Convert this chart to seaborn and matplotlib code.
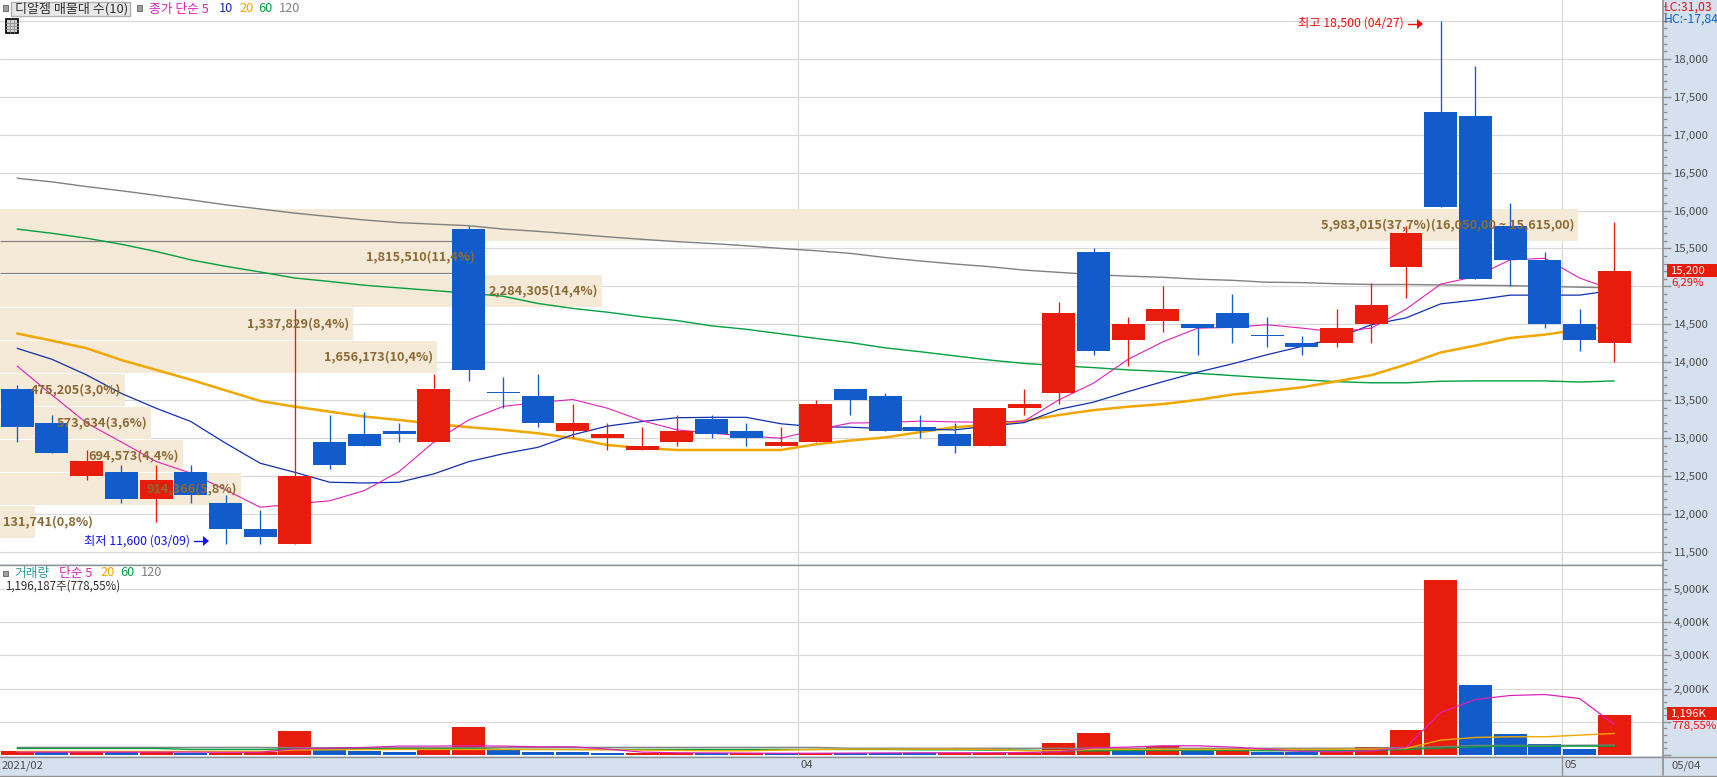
import numpy as np
import pandas as pd
import matplotlib
matplotlib.use("Agg")
import matplotlib.pyplot as plt
from matplotlib.patches import Rectangle
from matplotlib.ticker import MultipleLocator, FuncFormatter
import seaborn as sns

# ---------- data ----------
opens = [13650,13200,12500,12550,12200,12550,12150,11800,11600,12950,13050,13100,12950,15750,13600,13550,
         13100,13000,12850,12950,13250,13100,12900,12950,13650,13550,13150,13050,12900,13400,13600,15450,
         14300,14550,14500,14650,14350,14250,14250,14500,15250,17300,17250,15800,15350,14500,14250]
closes = [13150,12800,12700,12200,12450,12250,11800,11700,12500,12650,12900,13050,13650,13900,13600,13200,
          13200,13050,12900,13100,13050,13000,12950,13450,13500,13100,13100,12900,13400,13450,14650,14150,
          14500,14700,14450,14450,14350,14200,14450,14750,15700,16050,15100,15350,14500,14300,15200]
highs = [13700,13300,12850,12650,12650,12650,12250,12050,14700,13300,13350,13200,13850,15800,13800,13850,
         13450,13200,13150,13300,13300,13200,13150,13500,13650,13600,13300,13200,13400,13650,14800,15500,
         14600,15000,14500,14900,14600,14350,14700,15050,15800,18500,17900,16100,15450,14700,15850]
lows = [12950,12800,12450,12150,11900,12150,11600,11600,11600,12600,12900,12950,12950,13750,13400,13150,
        13000,12850,12850,12900,13000,12900,12900,12950,13300,13100,13000,12800,12900,13300,13450,14100,
        13950,14400,14100,14250,14200,14100,14200,14250,14850,16050,15100,15000,14450,14150,14000]
ma5 = [13950,13570,13200,12950,12693,12540,12320,12090,12135,12175,12310,12560,12950,13240,13420,13470,
       13510,13395,13230,13110,13065,13030,13000,13110,13200,13205,13225,13215,13210,13225,13505,13725,
       14040,14270,14450,14460,14495,14450,14400,14450,14700,15030,15130,15350,15370,15110,14950]
ma10 = [14184,14040,13833,13590,13395,13220,12935,12670,12550,12420,12410,12420,12530,12690,12795,12880,
        13045,13160,13220,13270,13275,13275,13190,13150,13145,13125,13120,13110,13160,13205,13380,13475,
        13615,13745,13870,13980,14100,14210,14320,14495,14585,14770,14820,14885,14885,14885,14950]
ma20 = [14380,14285,14185,14030,13900,13770,13630,13490,13415,13350,13285,13240,13190,13145,13110,13065,
        13000,12910,12870,12845,12845,12845,12845,12920,12970,13010,13080,13145,13175,13230,13305,13370,
        13415,13450,13505,13575,13620,13670,13750,13830,13970,14130,14220,14320,14365,14430,14475]
ma60 = [15755,15700,15635,15555,15460,15350,15265,15190,15110,15065,15015,14980,14945,14910,14870,14775,
        14710,14660,14600,14550,14480,14435,14375,14315,14260,14190,14140,14085,14030,13985,13955,13930,
        13900,13880,13855,13825,13795,13770,13745,13730,13730,13750,13755,13755,13755,13740,13755]
ma120 = [16425,16377,16315,16260,16200,16140,16075,16020,15965,15920,15875,15840,15820,15800,15755,15725,
         15690,15653,15620,15590,15565,15535,15500,15470,15435,15380,15335,15295,15260,15215,15185,15155,
         15135,15120,15095,15080,15055,15050,15035,15025,15025,15020,15015,15010,15000,14990,14980]
volume = [120,80,80,80,100,70,70,90,720,210,120,100,200,840,150,90,90,60,60,70,70,70,50,70,
          70,70,70,70,70,70,360,660,150,280,130,130,90,90,130,240,750,5250,2100,630,330,180,1196]
vol_dir = ["up","dn","up","dn","up","dn","up","up","up","dn","dn","dn","up","up","dn","dn","dn","dn",
           "up","up","dn","up","dn","up","dn","dn","dn","up","up","up","up","up","dn","up","dn","up",
           "dn","dn","up","up","up","up","dn","dn","dn","dn","up"]
vma5 = [90,90,90,90,90,90,85,85,190,210,230,270,270,280,270,250,250,180,90,70,65,60,55,55,
        60,65,70,70,70,75,100,220,240,280,280,240,175,110,100,130,230,1280,1670,1790,1820,1700,920]
vma20 = [110,110,110,110,110,110,110,110,150,160,165,170,170,170,170,170,165,160,150,140,130,130,150,170,
         180,180,180,180,170,130,130,170,170,170,170,170,170,170,175,180,200,450,530,550,550,600,650]
vma60 = [200,200,200,200,200,170,170,170,190,190,190,190,190,200,170,170,170,170,170,170,170,170,170,170,
         170,170,160,160,150,150,130,130,140,140,140,140,130,130,130,140,170,210,250,270,270,270,270]
vma120 = [230,230,230,230,230,230,230,230,220,220,220,220,220,220,230,230,230,230,230,230,230,230,230,230,
          205,205,205,205,205,205,205,205,205,205,205,205,205,205,205,210,230,250,290,290,290,295,300]
band_hi = [16020,15598,15150,14715,14281,13847,13412,12978,12543,12109]
band_lo = [15598,15176,14728,14294,13860,13425,12991,12556,12122,11687]
band_vol = [5983015,1815510,2284305,1337829,1656173,475205,573634,694573,914366,131741]
band_lab = ["5,983,015(37,7%)(16,050,00 ~ 15,615,00)","1,815,510(11,4%)","2,284,305(14,4%)","1,337,829(8,4%)",
            "1,656,173(10,4%)","475,205(3,0%)","573,634(3,6%)","694,573(4,4%)","914,366(5,8%)","131,741(0,8%)"]
month_pos = [22.5, 44.5]
month_labels = ["04", "05"]

# ---------- style ----------
W, H = 1717, 777
RED, BLUE = "#E81C0A", "#125BCB"
MAG, NAVY, ORG, GRN, GRY = "#E020B8", "#1030B0", "#F0A800", "#00A040", "#808080"
BAND, BROWN, GRID, STRIP, AXC, TXT = "#F5E9D7", "#8B6A35", "#D8D8D8", "#D6E1EF", "#909090", "#4A4A4A"
sns.set_theme(style="white")
plt.rcParams["font.family"] = ["Noto Sans CJK KR", "DejaVu Sans"]
fig = plt.figure(figsize=(W/100, H/100), dpi=100, facecolor=STRIP)

def rect(x0, y0, x1, y1):
    return [x0/W, 1-y1/H, (x1-x0)/W, (y1-y0)/H]

def ftext(x, y, s, color=TXT, size=8, **kw):
    kw.setdefault("va", "center")
    fig.text(x/W, 1-y/H, s, color=color, fontsize=size, **kw)

def fbox(x0, y0, x1, y1, fc, ec="none", lw=0, z=5):
    fig.add_artist(Rectangle((x0/W, 1-y1/H), (x1-x0)/W, (y1-y0)/H, transform=fig.transFigure,
                             fc=fc, ec=ec, lw=lw, zorder=z))

AXR = 1662.7
xlim = (-17.2/34.72, (AXR-17.2)/34.72)
ylim_main = (18000-(564-58.7)/0.0759, 18000+58.7/0.0759)
idx = np.arange(len(closes))

# background layer of main pane: grid and volume profile bands
ax_band = fig.add_axes(rect(0, 0, AXR, 564), facecolor="white", zorder=1)
ax_band.set_ylim(ylim_main)
ax_band.set_xlim(0, 5983015*AXR/1578)
for p in np.arange(11500, 18501, 500):
    ax_band.axhline(p, color=GRID, lw=0.85, zorder=1)
for m in month_pos:
    ax_band.axvline((m-xlim[0])/(xlim[1]-xlim[0])*ax_band.get_xlim()[1], color=GRID, lw=0.85, zorder=1)
ax_band.barh([(a+b)/2 for a, b in zip(band_hi, band_lo)], band_vol,
             height=[a-b for a, b in zip(band_hi, band_lo)], left=0, color=BAND, linewidth=0, zorder=2)
ax_band.hlines([band_hi[1], band_lo[1]], 0, band_vol[1], color=GRY, lw=0.85, zorder=3)
ax_band.set_xticks([]); ax_band.set_yticks([])
for s in ax_band.spines.values():
    s.set_visible(False)

# main pane
ax = fig.add_axes(rect(0, 0, AXR, 564), facecolor="none", zorder=2)
for arr, c, lw in [(ma120, GRY, 1.0), (ma60, GRN, 1.0), (ma20, ORG, 1.8), (ma10, NAVY, 0.9), (ma5, MAG, 0.8)]:
    sns.lineplot(x=idx, y=arr, color=c, linewidth=lw, ax=ax, legend=False, estimator=None, sort=False, zorder=3)
o, c_ = np.array(opens), np.array(closes)
up = c_ >= o
up[14] = False
up[36] = False
cols = [RED if u else BLUE for u in up]
ax.vlines(idx, lows, highs, colors=cols, lw=0.95, zorder=4)
hts = np.maximum(np.abs(c_-o), 14)
ax.bar(idx, hts, bottom=np.minimum(o, c_), width=0.95, color=cols, linewidth=0, zorder=5)
ax.set_xlim(xlim); ax.set_ylim(ylim_main)
ax.set_xticks([]); ax.set_xlabel(""); ax.set_ylabel("")
ax.yaxis.tick_right()
ax.yaxis.set_major_locator(MultipleLocator(500))
ax.yaxis.set_minor_locator(MultipleLocator(100))
ax.yaxis.set_major_formatter(FuncFormatter(lambda v, _: f"{int(v):,}" if v <= 18000 and v != 15000 else ""))
ax.tick_params(axis="y", which="major", length=6, width=1, color=AXC, labelcolor=TXT, labelsize=8.2, pad=2, right=True)
ax.tick_params(axis="y", which="minor", length=3, width=1, color=AXC, right=True)
for s in ["top", "left", "bottom"]:
    ax.spines[s].set_visible(False)
ax.spines["right"].set_color(AXC); ax.spines["right"].set_linewidth(1.2)

# band labels drawn above the candles
for i, (h, l, v, t) in enumerate(zip(band_hi, band_lo, band_vol, band_lab)):
    px = v/5983015*1578
    y = (h+l)/2
    tr = ax.get_yaxis_transform()
    if i == len(band_vol)-1:
        ax.text(3/AXR, y, t, transform=tr, ha="left", va="center", color=BROWN, fontsize=9.2, fontweight="bold", zorder=8)
    else:
        ax.text((px-4)/AXR, y, t, transform=tr, ha="right", va="center", color=BROWN, fontsize=9.2, fontweight="bold", zorder=8)

# high / low callouts
ftext(1298, 23, "최고 18,500 (04/27)", color="#F01010", size=8.8)
ftext(83.5, 541, "최저 11,600 (03/09)", color="#1010F0", size=8.8)
for x0, x1, yy, cc in [(1408, 1423, 24, "#F01010"), (194, 209, 541, "#1010F0")]:
    fig.add_artist(plt.Line2D([x0/W, (x1-5)/W], [1-yy/H]*2, color=cc, lw=1.0, zorder=6))
    fig.add_artist(plt.Polygon([[(x1-6)/W, 1-(yy-5)/H], [x1/W, 1-yy/H], [(x1-6)/W, 1-(yy+5)/H]],
                               closed=True, fc=cc, ec=cc, lw=0, transform=fig.transFigure, zorder=6))

# volume pane
ax_v = fig.add_axes(rect(0, 564.5, AXR, 755.5), facecolor="white", zorder=2)
for v_ in range(1000, 5001, 1000):
    ax_v.axhline(v_, color=GRID, lw=0.85, zorder=0)
for m in month_pos:
    ax_v.axvline(m, color=GRID, lw=0.85, zorder=0)
dfv = pd.DataFrame({"i": idx, "v": volume, "d": vol_dir})
sns.barplot(data=dfv, x="i", y="v", hue="d", palette={"up": RED, "dn": BLUE}, native_scale=True, dodge=False,
            width=0.95, saturation=1, legend=False, ax=ax_v, zorder=2, linewidth=0)
for arr, c, lw in [(vma120, GRY, 1.0), (vma60, GRN, 1.0), (vma20, ORG, 1.0), (vma5, MAG, 0.9)]:
    sns.lineplot(x=idx, y=arr, color=c, linewidth=lw, ax=ax_v, legend=False, estimator=None, sort=False, zorder=3)
ax_v.set_xlim(xlim)
ax_v.set_ylim(-12, (755.5-564.5)/33.3*1000-12)
ax_v.set_xticks([]); ax_v.set_xlabel(""); ax_v.set_ylabel("")
ax_v.yaxis.tick_right()
ax_v.yaxis.set_major_locator(MultipleLocator(1000))
ax_v.yaxis.set_minor_locator(MultipleLocator(200))
ax_v.yaxis.set_major_formatter(FuncFormatter(lambda v, _: f"{int(v):,}K" if v > 1000 else ""))
ax_v.tick_params(axis="y", which="major", length=6, width=1, color=AXC, labelcolor=TXT, labelsize=8.2, pad=2, right=True)
ax_v.tick_params(axis="y", which="minor", length=3, width=1, color=AXC, right=True)
for s in ["top", "left", "bottom"]:
    ax_v.spines[s].set_visible(False)
ax_v.spines["right"].set_color(AXC); ax_v.spines["right"].set_linewidth(1.2)

# frame lines
for y0 in (564.5, 756.5, 775.5):
    fig.add_artist(plt.Line2D([0, 1 if y0 != 564.5 else AXR/W], [1-y0/H]*2, color=AXC, lw=1.0, zorder=6))
fig.add_artist(plt.Line2D([AXR/W]*2, [1-756/H, 1-775/H], color=AXC, lw=1.2, zorder=6))
fig.add_artist(plt.Line2D([(17.2+month_pos[1]*34.72)/W]*2, [1-756/H, 1-775/H], color=AXC, lw=1.0, zorder=6))
fbox(0, 776, W, H, "#EFEFEF", z=5)

# date labels
ftext(2, 765.5, "2021/02", size=8.1)
for m, lab in zip(month_pos, month_labels):
    ftext(17.2+m*34.72+2, 765.5, lab, size=8.1)
ftext(1671, 765.5, "05/04", size=8.1)

# right strip read-outs
ftext(1663.5, 7, "LC:31,03", color="#F01010", size=8.8, zorder=9)
ftext(1663.5, 19, "HC:-17,84", color="#1060D0", size=8.8, zorder=9)
fbox(1667, 264, W, 277, RED, z=7)
ftext(1671, 270.5, "15,200", color="white", size=8.2, zorder=9)
ftext(1671, 283, "6,29%", color="#F01010", size=8.2, zorder=9)
fbox(1667, 707, W, 720, RED, z=7)
ftext(1671, 713.5, "1,196K", color="white", size=8.2, zorder=9)
ftext(1671, 726, "778,55%", color="#F01010", size=8.2, zorder=9)

# legends
fbox(3, 5, 8, 11, "#A0A0A0", ec="#707070", lw=0.7, z=7)
fbox(10.5, 1.5, 130, 16, "#E8E8E8", ec="#B0B0B0", lw=1, z=7)
ftext(14.5, 9, "디알젬 매물대 수(10)", color="#303030", size=9.4, zorder=9)
fbox(137, 5, 142, 11, "#A0A0A0", ec="#707070", lw=0.7, z=7)
for xx, s, cc in [(148.5, "종가 단순 5", MAG), (219, "10", NAVY), (239, "20", ORG), (258, "60", GRN), (279, "120", GRY)]:
    ftext(xx, 9, s, color=cc, size=9.2, zorder=9)
fbox(5.5, 19.5, 18, 32.5, "#D0D0D0", ec="black", lw=1.2, z=7)
for k in (9.5, 13.5):
    fig.add_artist(plt.Line2D([k/W]*2, [1-20/H, 1-32/H], color="#909090", lw=0.6, zorder=8))
for k in (23, 26, 29):
    fig.add_artist(plt.Line2D([6/W, 17.5/W], [1-k/H]*2, color="#909090", lw=0.6, zorder=8))
fbox(3, 571, 8, 576, "#A0A0A0", ec="#707070", lw=0.7, z=7)
for xx, s, cc in [(14.5, "거래량", "#30A0A0"), (58.5, "단순 5", MAG), (100.5, "20", ORG), (120.5, "60", GRN), (141, "120", GRY)]:
    ftext(xx, 573, s, color=cc, size=9.2, zorder=9)
ftext(5.5, 586.5, "1,196,187주(778,55%)", color="#303030", size=8.3, zorder=9)

fig.savefig("out.png", dpi=100, facecolor=fig.get_facecolor())
